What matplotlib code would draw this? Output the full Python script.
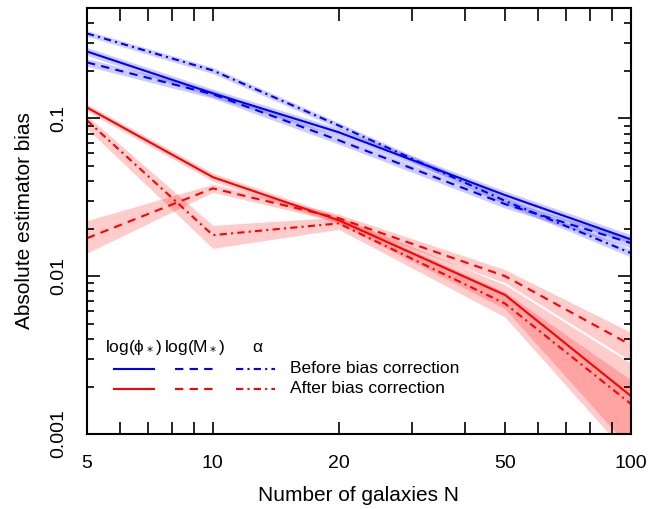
import matplotlib
matplotlib.use('Agg')
import matplotlib.pyplot as plt
from matplotlib.ticker import FixedLocator, FixedFormatter, LogLocator, NullFormatter, NullLocator

plt.rcParams['font.family'] = ['Liberation Sans', 'DejaVu Sans']

# number of galaxies per sample
n_gal = [5, 10, 20, 50, 100]

# before bias correction (blue), line value and shaded range
phi_before = [0.265, 0.144, 0.0816, 0.0326, 0.0171]
phi_before_lo = [0.250, 0.136, 0.0770, 0.0307, 0.0160]
phi_before_hi = [0.281, 0.153, 0.0865, 0.0346, 0.0183]

mstar_before = [0.226, 0.142, 0.0726, 0.0286, 0.0162]
mstar_before_lo = [0.214, 0.134, 0.0686, 0.0270, 0.0151]
mstar_before_hi = [0.239, 0.150, 0.0768, 0.0303, 0.0173]

alpha_before = [0.345, 0.201, 0.0900, 0.0300, 0.0140]
alpha_before_lo = [0.331, 0.192, 0.0862, 0.0285, 0.0132]
alpha_before_hi = [0.359, 0.210, 0.0940, 0.0316, 0.0148]

# after bias correction (red)
phi_after = [0.117, 0.0424, 0.0226, 0.0076, 0.00174]
phi_after_lo = [0.111, 0.0400, 0.0214, 0.0062, 0.0008]
phi_after_hi = [0.123, 0.0450, 0.0239, 0.0088, 0.0028]

mstar_after = [0.0174, 0.0360, 0.0233, 0.0100, 0.00366]
mstar_after_lo = [0.0140, 0.0340, 0.0220, 0.0091, 0.0029]
mstar_after_hi = [0.0225, 0.0382, 0.0247, 0.0110, 0.0044]

alpha_after = [0.0970, 0.0182, 0.0216, 0.0067, 0.00155]
alpha_after_lo = [0.0860, 0.0150, 0.0198, 0.0055, 0.0007]
alpha_after_hi = [0.1040, 0.0210, 0.0236, 0.0079, 0.0022]

x_tick_pos = [5, 6, 7, 8, 9, 10, 20, 30, 40, 50, 60, 70, 80, 90, 100]
x_tick_lab = ['5', '', '', '', '', '10', '20', '', '', '50', '', '', '', '', '100']
y_tick_pos = [0.001, 0.01, 0.1]
y_tick_lab = ['0.001', '0.01', '0.1']

solid = '-'
dashed = (0, (4, 3))
dashdot = (0, (3.5, 2, 1, 2))

series = [
    (phi_before, phi_before_lo, phi_before_hi, 'blue', solid),
    (mstar_before, mstar_before_lo, mstar_before_hi, 'blue', dashed),
    (alpha_before, alpha_before_lo, alpha_before_hi, 'blue', dashdot),
    (phi_after, phi_after_lo, phi_after_hi, 'red', solid),
    (mstar_after, mstar_after_lo, mstar_after_hi, 'red', dashed),
    (alpha_after, alpha_after_lo, alpha_after_hi, 'red', dashdot),
]

fig = plt.figure(figsize=(6.61, 5.09), dpi=100)
ax = fig.add_axes([0.1316, 0.1473, 0.823, 0.837])

for vals, lo, hi, col, ls in series:
    ax.fill_between(n_gal, lo, hi, color=col, alpha=0.2, lw=0)
for vals, lo, hi, col, ls in series:
    ax.plot(n_gal, vals, color=col, ls=ls, lw=1.5)

ax.set_xscale('log')
ax.set_yscale('log')
ax.set_xlim(5, 100)
ax.set_ylim(0.001, 0.5)

ax.xaxis.set_major_locator(FixedLocator(x_tick_pos))
ax.xaxis.set_major_formatter(FixedFormatter(x_tick_lab))
ax.xaxis.set_minor_locator(NullLocator())
ax.yaxis.set_major_locator(FixedLocator(y_tick_pos))
ax.yaxis.set_major_formatter(FixedFormatter(y_tick_lab))
ax.yaxis.set_minor_locator(LogLocator(base=10, subs=range(2, 10)))
ax.yaxis.set_minor_formatter(NullFormatter())

ax.tick_params(which='both', direction='in', top=True, right=True, width=1.2)
ax.tick_params(axis='x', which='major', length=9, labelsize=14, pad=15)
ax.tick_params(axis='y', which='major', length=9.5, labelsize=14, pad=14)
ax.tick_params(axis='y', which='minor', length=5)
for lbl in ax.get_yticklabels():
    lbl.set_rotation(90)
    lbl.set_va('center')
for sp in ax.spines.values():
    sp.set_linewidth(1.5)

ax.set_xlabel('Number of galaxies N', fontsize=15, labelpad=10)
ax.set_ylabel('Absolute estimator bias', fontsize=15, labelpad=12)

# legend drawn by hand: column headings, then one row per correction state
tr = ax.transAxes
for xc, head in zip([0.086, 0.199, 0.3125], ['log(ϕ$_*$)', 'log(M$_*$)', 'α']):
    ax.text(xc, 0.202, head, transform=tr, ha='center', va='center', fontsize=12.5)
for yr, col, lab in [(0.153, 'blue', 'Before bias correction'),
                     (0.106, 'red', 'After bias correction')]:
    for (x0, x1), ls in zip([(0.050, 0.123), (0.162, 0.235), (0.274, 0.346)],
                            [solid, dashed, dashdot]):
        ax.plot([x0, x1], [yr, yr], transform=tr, color=col, ls=ls, lw=1.5)
    ax.text(0.373, yr, lab, transform=tr, ha='left', va='center', fontsize=12.5)

fig.savefig('out.png', dpi=100)
